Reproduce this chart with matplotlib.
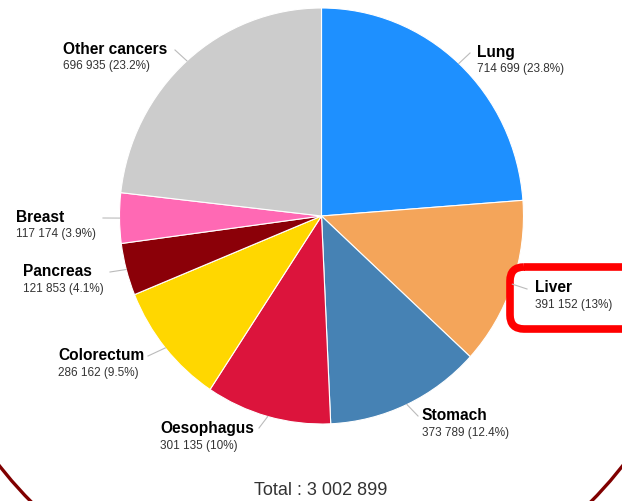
import numpy as np
import matplotlib.pyplot as plt
from matplotlib.patches import FancyBboxPatch, Circle
from matplotlib.transforms import Affine2D

plt.rcParams['font.family'] = ['Liberation Sans', 'DejaVu Sans']

W, H = 622, 501

sites = ["Lung", "Liver", "Stomach", "Oesophagus", "Colorectum",
         "Pancreas", "Breast", "Other cancers"]
cases = [714699, 391152, 373789, 301135, 286162, 121853, 117174, 696935]
shares = ["23.8%", "13%", "12.4%", "10%", "9.5%", "4.1%", "3.9%", "23.2%"]
colors = ["#1e90ff", "#f4a55a", "#4682b4", "#dc143c", "#ffd700",
          "#8b0008", "#ff69b4", "#cccccc"]

# label layout in pixels (left x of text, centre y of name line, connector end)
label_xy = [(477, 52), (535, 288), (422, 416), (160, 429),
            (58, 356), (23, 272), (16, 217), (63, 49)]
conn_end = [(470, 53), (527, 289), (418, 416), (259, 428),
            (148, 356), (110, 272), (103, 218), (175, 50)]


def fmt(n):
    return f"{n:,}".replace(",", " ")


fig = plt.figure(figsize=(W / 100, H / 100), dpi=100)
px = Affine2D().scale(1 / W, -1 / H).translate(0, 1) + fig.transFigure

# pie area: centre (321.5, 216), rx 202, ry 208
ax = fig.add_axes([119.5 / W, 77 / H, 404 / W, 416 / H])
wedges, _ = ax.pie(cases, colors=colors, startangle=90, counterclock=False,
                   radius=1, wedgeprops=dict(edgecolor="white", linewidth=0.8))
ax.set_aspect("auto")
ax.set_xlim(-1, 1)
ax.set_ylim(-1, 1)
fig.canvas.draw()

for w, name, n, s, (lx, ly), (ex, ey) in zip(wedges, sites, cases, shares,
                                             label_xy, conn_end):
    th = np.deg2rad((w.theta1 + w.theta2) / 2)
    dx, dy = ax.transData.transform((np.cos(th), np.sin(th)))
    sx, sy = dx, H - dy
    fig.add_artist(plt.Line2D([sx, ex], [sy, ey], transform=px,
                              color="#bbbbbb", lw=0.8))
    fig.text(lx, ly, name, transform=px, fontsize=11.2, fontweight="bold",
             color="#000000", ha="left", va="center")
    fig.text(lx, ly + 17, f"{fmt(n)} ({s})", transform=px, fontsize=8.5,
             color="#333333", ha="left", va="center")

fig.text(321, 491, "Total : " + fmt(sum(cases)), transform=px, fontsize=13,
         color="#333333", ha="center", va="center")

# highlight box around Liver
fig.add_artist(FancyBboxPatch((525, 282), 120, 32,
                              boxstyle="round,pad=15,rounding_size=14",
                              transform=px, fill=False, edgecolor="#ff0000",
                              lw=5.5))

# dark red frame
fig.add_artist(Circle((311, 223), 395, transform=px, fill=False,
                      edgecolor="#800000", lw=2.4))

fig.savefig("out.png", dpi=100)
